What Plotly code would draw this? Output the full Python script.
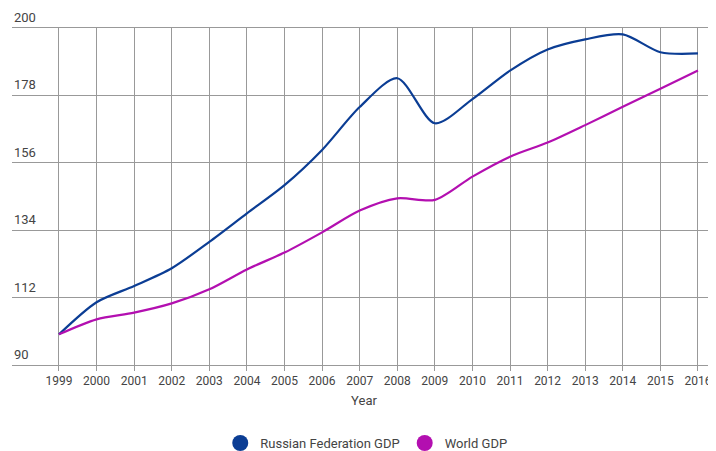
import plotly.graph_objects as go

years = list(range(1999, 2017))
russia_gdp = [100.0, 110.5, 115.8, 121.6, 130.2, 139.5, 148.7, 160.2, 174.2, 183.6,
              168.9, 176.8, 186.1, 193.0, 196.3, 197.9, 192.1, 191.7]
world_gdp = [100.0, 104.9, 107.1, 110.1, 114.7, 121.2, 126.7, 133.3, 140.4, 144.4,
             143.9, 151.5, 158.0, 162.6, 168.3, 174.3, 180.2, 186.1]
y_ticks = [90, 112, 134, 156, 178, 200]

blue = "#0b3d94"
magenta = "#b30fb0"
grid = "#999999"
text = "#444444"

fig = go.Figure()
fig.add_trace(go.Scatter(x=years, y=russia_gdp, mode="lines", line=dict(color=blue, width=2.2, shape="spline", smoothing=0.8),
                         showlegend=False, name="Russian Federation GDP"))
fig.add_trace(go.Scatter(x=years, y=world_gdp, mode="lines", line=dict(color=magenta, width=2.2, shape="spline", smoothing=0.8),
                         showlegend=False, name="World GDP"))
fig.add_trace(go.Scatter(x=[None], y=[None], mode="markers", marker=dict(color=blue, size=16, symbol="circle"),
                         name="Russian Federation GDP"))
fig.add_trace(go.Scatter(x=[None], y=[None], mode="markers", marker=dict(color=magenta, size=16, symbol="circle"),
                         name="World GDP"))

for v in y_ticks:
    fig.add_annotation(x=0, xref="paper", y=v, yref="y", text=str(v), showarrow=False,
                       xanchor="left", yanchor="bottom", yshift=1,
                       font=dict(family="Roboto", size=13, color=text))

# the page body keeps its default 8px margin, so the figure is sized to fit the 716x451 window
fig.update_layout(
    width=708, height=443,
    margin=dict(l=4, r=0, t=20, b=86, autoexpand=False),
    paper_bgcolor="white", plot_bgcolor="white",
    font=dict(family="Roboto", size=13, color=text),
    legend=dict(orientation="h", x=0.506, xanchor="center", xref="container",
                y=0.018, yanchor="middle", yref="container",
                font=dict(size=13, color=text), itemsizing="trace"),
    xaxis=dict(range=[1997.75, 2016.48], tickmode="array", tickvals=years, automargin=False,
               ticktext=[str(y) for y in years], showgrid=True, gridcolor=grid, gridwidth=1,
               ticks="outside", ticklen=5, tickcolor=grid, showline=True, linecolor=grid, mirror=True,
               zeroline=False, tickfont=dict(size=12, color=text),
               title=dict(text="Year", font=dict(size=13, color=text), standoff=8)),
    yaxis=dict(range=[90, 200], tickmode="array", tickvals=y_ticks, showgrid=True, automargin=False,
               gridcolor=grid, gridwidth=1, zeroline=False, showticklabels=False, ticks=""),
)

fig.write_html("out.html")
